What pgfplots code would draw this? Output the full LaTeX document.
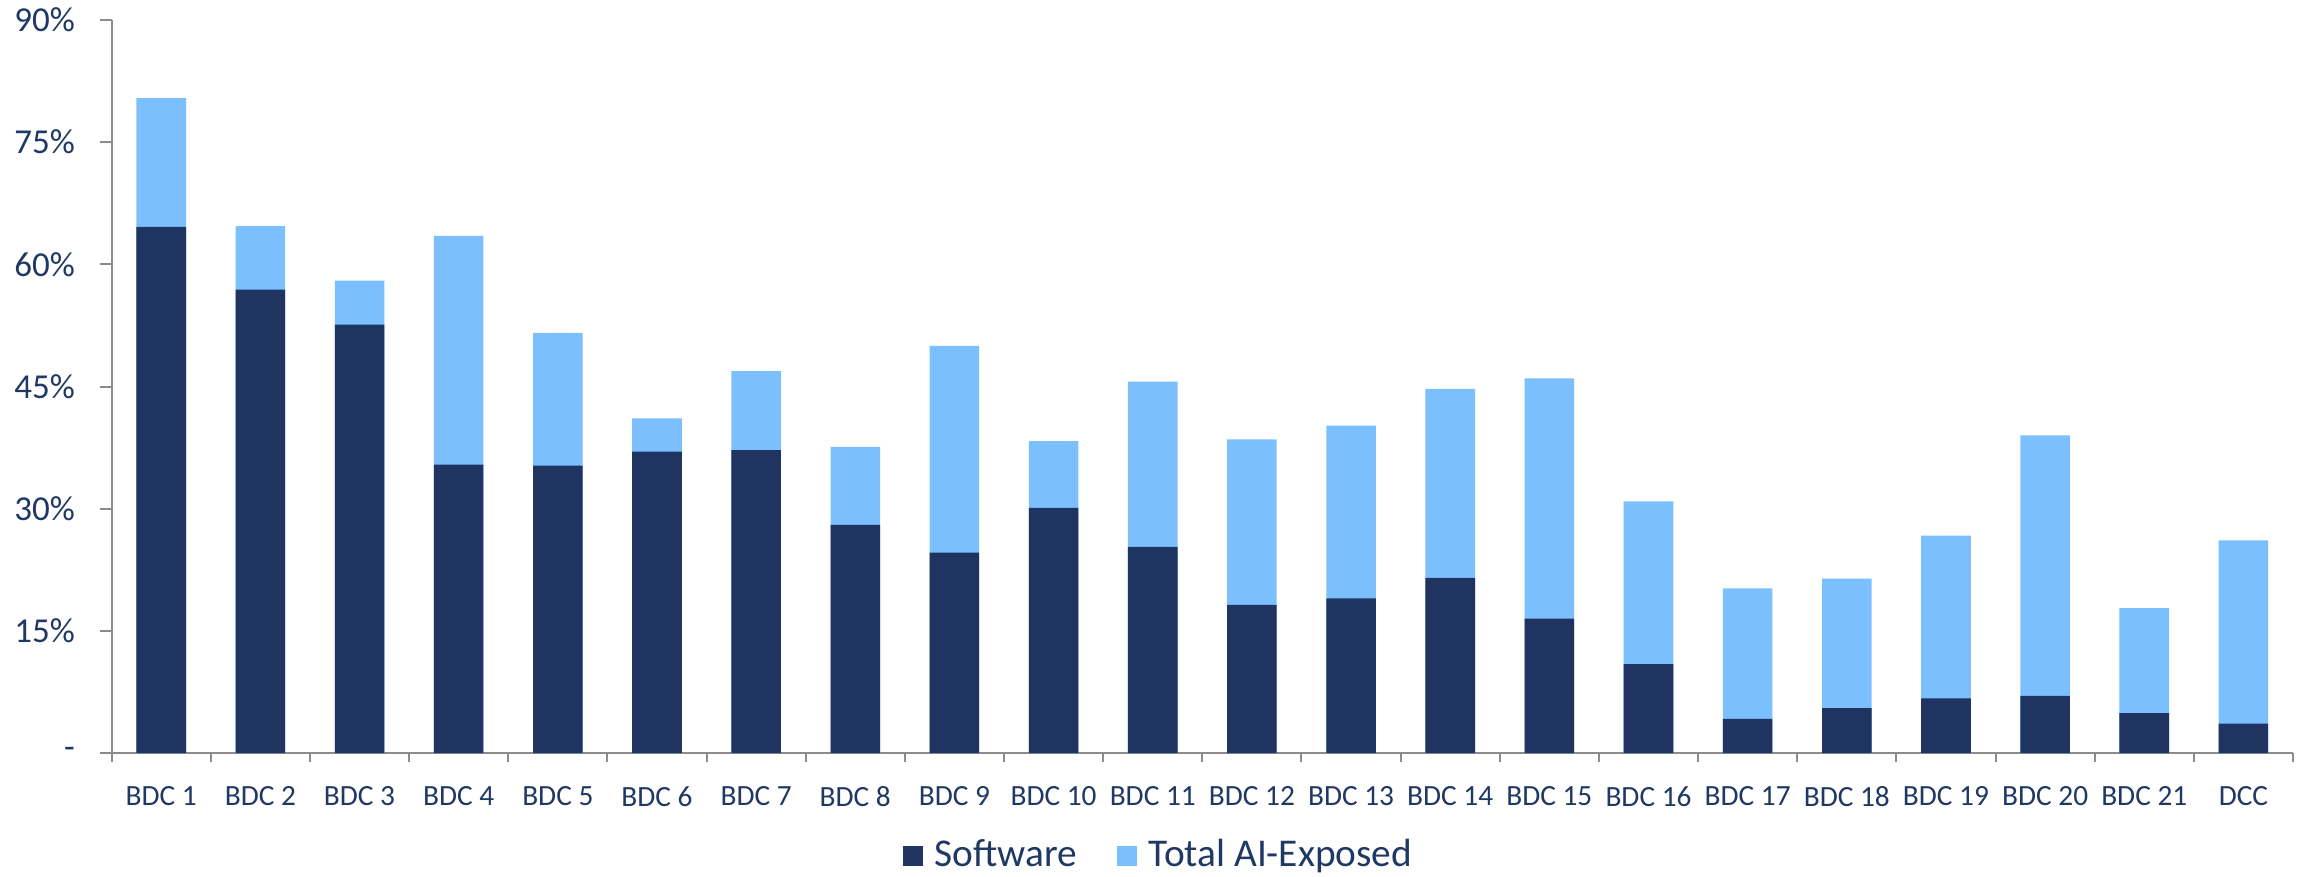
\documentclass[border=0pt]{standalone}
\usepackage{pgfplots}
\usepackage{pgfplotstable}
\pgfplotsset{compat=1.18}
\usepackage{fontspec}
\setmainfont{Carlito}

\definecolor{swnavy}{RGB}{31,52,96}
\definecolor{aiblue}{RGB}{123,191,255}
\definecolor{txtnavy}{RGB}{31,56,100}
\definecolor{axgray}{RGB}{140,140,140}

% share of exposure per company (percent): total AI-exposed and software part
\pgfplotstableread{
idx total software
0  80.4 64.6
1  64.7 56.9
2  58.0 52.6
3  63.5 35.4
4  51.6 35.3
5  41.1 37.0
6  46.9 37.2
7  37.6 28.0
8  50.0 24.6
9  38.3 30.1
10 45.6 25.3
11 38.5 18.2
12 40.2 19.0
13 44.7 21.5
14 46.0 16.5
15 30.9 10.9
16 20.2 4.2
17 21.4 5.5
18 26.7 6.7
19 39.0 7.0
20 17.8 4.9
21 26.1 3.6
}\exposure

\begin{document}
\begin{tikzpicture}
\useasboundingbox (-33.5pt,-36.9pt) rectangle (658.0pt,225.9pt);
\begin{axis}[
  at={(0pt,0pt)}, anchor=south west,
  width=654.4pt, height=219.9pt, scale only axis,
  xmin=-0.5, xmax=21.5, ymin=0, ymax=90,
  axis x line=bottom, axis y line=left,
  axis line style={-, draw=axgray, line width=0.6pt},
  tick align=outside,
  xtick={0,...,21},
  xticklabels={BDC 1,BDC 2,BDC 3,BDC 4,BDC 5,BDC 6,BDC 7,BDC 8,BDC 9,BDC 10,BDC 11,BDC 12,BDC 13,BDC 14,BDC 15,BDC 16,BDC 17,BDC 18,BDC 19,BDC 20,BDC 21,DCC},
  major x tick style={draw=none},
  minor xtick={-0.5,0.5,...,21.5},
  minor x tick style={draw=axgray, line width=0.6pt},
  minor tick length=2.8pt,
  ytick={0,15,...,90},
  yticklabels={-,15\%,30\%,45\%,60\%,75\%,90\%},
  major tick length=3.5pt,
  ytick style={draw=axgray, line width=0.6pt},
  xticklabel style={font=\fontsize{8.8}{10}\selectfont, text=txtnavy, yshift=-3pt},
  yticklabel style={font=\fontsize{10.5}{12}\selectfont, text=txtnavy, xshift=-4pt},
  bar width=0.5,
  legend columns=2,
  legend style={at={(0.481,0)}, anchor=center, yshift=-30.75pt,
    draw=none, fill=none, text=txtnavy,
    font=\fontsize{11.8}{14}\selectfont,
    /tikz/every odd column/.append style={column sep=1.5pt},
    /tikz/every even column/.append style={column sep=10pt}},
  legend image code/.code={\fill[draw=none,#1] (0pt,-3pt) rectangle (6pt,3pt);},
]
\addplot[ybar, bar shift=0pt, fill=aiblue, draw=none, forget plot]
  table[x=idx, y=total]{\exposure};
\addplot[ybar, bar shift=0pt, fill=swnavy, draw=none, forget plot]
  table[x=idx, y=software]{\exposure};
\addlegendimage{fill=swnavy, draw=none}
\addlegendentry{Software}
\addlegendimage{fill=aiblue, draw=none}
\addlegendentry{Total AI-Exposed}
\end{axis}
\end{tikzpicture}
\end{document}
